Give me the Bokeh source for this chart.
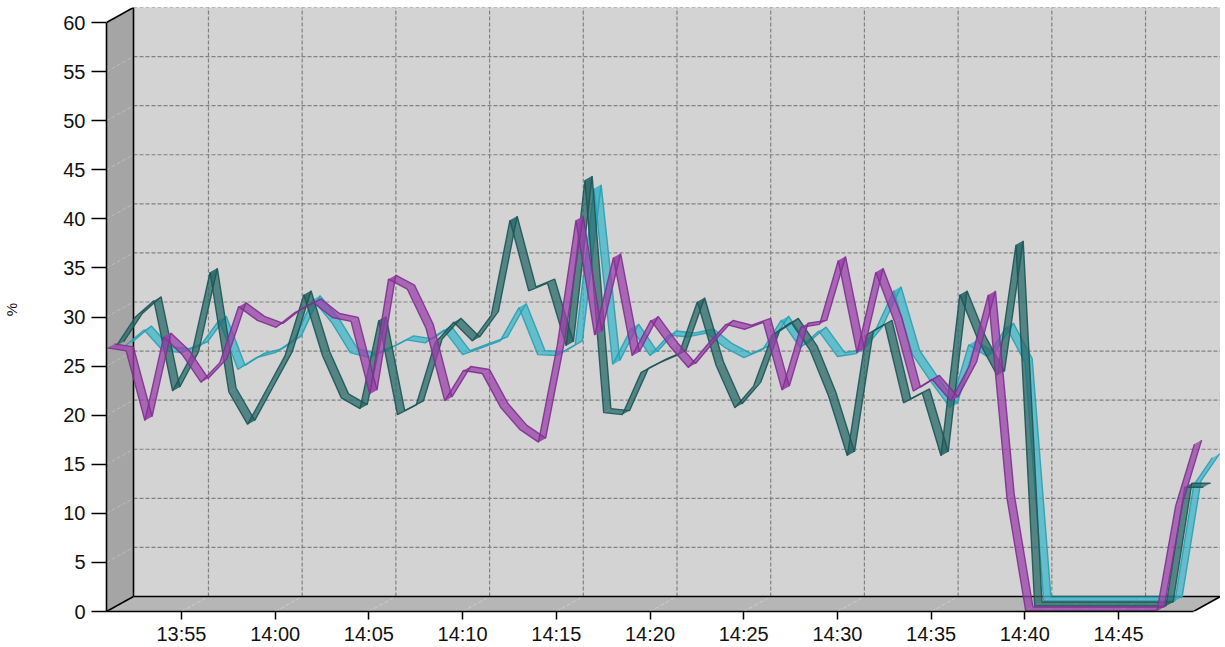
import pandas as pd
from bokeh.plotting import figure
from bokeh.models import FixedTicker, DatetimeTickFormatter, Range1d
from bokeh.embed import file_html
from bokeh.resources import INLINE

# ---------------- data ----------------
start_time = "2024-01-01 13:51"
end_time = "2024-01-01 14:49"
step_minutes = 1

series_purple = [26.8, 26.5, 19.4, 27.9, 26.1, 23.3, 25.3, 31.0, 29.6, 28.9,
                 30.4, 31.4, 29.9, 29.5, 22.1, 33.8, 32.8, 28.8, 21.4, 24.5,
                 24.2, 20.7, 18.5, 17.2, 27.0, 39.8, 28.1, 36.0, 26.0, 29.6,
                 27.0, 24.8, 27.1, 29.2, 28.7, 29.4, 22.5, 28.9, 29.2, 35.7,
                 26.3, 34.5, 29.5, 22.4, 23.6, 21.4, 25.0, 32.2, 11.5, 0.0,
                 0.0, 0.0, 0.0, 0.0, 0.0, 0.0, 0.0, 10.7, 17.0]
series_teal = [26.5, 29.4, 31.1, 21.9, 25.5, 34.0, 21.8, 18.5, 22.0, 25.5,
               31.7, 25.5, 21.2, 20.1, 29.1, 19.5, 20.5, 26.8, 28.9, 27.0,
               29.6, 39.3, 32.1, 32.9, 26.5, 43.4, 19.7, 19.5, 23.8, 24.8,
               25.6, 31.0, 24.5, 20.2, 22.4, 27.6, 28.9, 26.1, 21.4, 15.3,
               27.6, 28.7, 20.7, 21.7, 15.3, 31.7, 27.0, 23.5, 36.8, 0.0,
               0.0, 0.0, 0.0, 0.0, 0.0, 0.0, 0.0, 12.1, 12.1]
series_cyan = [26.0, 27.6, 25.5, 25.3, 26.0, 28.6, 23.6, 24.8, 25.3, 26.6,
               30.7, 28.4, 25.3, 24.8, 25.6, 26.6, 26.3, 27.6, 25.1, 25.8,
               26.5, 29.9, 25.1, 25.0, 26.1, 42.0, 24.1, 27.8, 25.0, 27.1,
               26.9, 27.3, 25.8, 24.8, 25.6, 28.6, 25.8, 27.5, 24.9, 25.2,
               27.5, 31.6, 25.1, 22.3, 19.7, 26.1, 24.9, 27.9, 24.3, 0.0,
               0.0, 0.0, 0.0, 0.0, 0.0, 0.0, 0.0, 11.8, 14.6]

x_tick_labels = ["13:55", "14:00", "14:05", "14:10", "14:15", "14:20",
                 "14:25", "14:30", "14:35", "14:40", "14:45"]
y_ticks = list(range(0, 61, 5))
y_label = "%"

# ---------------- geometry ----------------
def ms(s):
    return pd.Timestamp(s).value // 10**6

t0 = ms(start_time)
t1 = ms(end_time)
day = start_time.split(" ")[0]
x_ticks = [ms(day + " " + lab) for lab in x_tick_labels]

FRAME_W, FRAME_H = 1114, 604
DEPTH_X, DEPTH_Y = 27, 15          # pixel offset of the back wall
Y_MAX = 60
px_per_ms = (FRAME_W - DEPTH_X) / (t1 - t0)
px_per_unit = (FRAME_H - DEPTH_Y) / Y_MAX
ddx = DEPTH_X / px_per_ms
ddy = DEPTH_Y / px_per_unit

p = figure(frame_width=FRAME_W, frame_height=FRAME_H,
           x_axis_type="datetime",
           x_range=Range1d(t0, t0 + FRAME_W / px_per_ms),
           y_range=Range1d(0, FRAME_H / px_per_unit),
           output_backend="svg", toolbar_location=None,
           min_border_left=100, min_border_right=0,
           min_border_top=7, min_border_bottom=0,
           background_fill_color="white", border_fill_color="white",
           outline_line_color=None)
p.xgrid.visible = False
p.ygrid.visible = False

# walls
xa, xb = t0, t1
p.patch([xa + ddx, xb + ddx, xb + ddx, xa + ddx],
        [ddy, ddy, Y_MAX + ddy, Y_MAX + ddy],
        fill_color="#d3d3d3", line_color=None)
p.patch([xa, xa + ddx, xa + ddx, xa], [0, ddy, Y_MAX + ddy, Y_MAX],
        fill_color="#a5a5a5", line_color=None)
p.patch([xa, xb, xb + ddx, xa + ddx], [0, 0, ddy, ddy],
        fill_color="#b6b6b6", line_color=None)

# grid on back wall
gy = [t for t in y_ticks if t > 0]
p.multi_line([[xa + ddx, xb + ddx] for _ in gy], [[t + ddy, t + ddy] for t in gy],
             line_color="#808080", line_width=1.2, line_dash="4 2")
p.multi_line([[t + ddx, t + ddx] for t in x_ticks], [[ddy, Y_MAX + ddy] for _ in x_ticks],
             line_color="#808080", line_width=1.2, line_dash="4 2")
# grid on left wall and floor
lw = [t for t in gy if t < Y_MAX]
p.multi_line([[xa, xa + ddx] for _ in lw], [[t, t + ddy] for t in lw],
             line_color="#bcbcbc", line_width=1, line_dash="4 2")
p.multi_line([[t, t + ddx] for t in x_ticks], [[0, ddy] for _ in x_ticks],
             line_color="#cdcdcd", line_width=1, line_dash="4 2")

# box edges
edge = dict(line_color="black", line_width=1.6)
p.line([xa + ddx, xa + ddx], [ddy, Y_MAX + ddy], **edge)
p.line([xa + ddx, xb + ddx], [ddy, ddy], **edge)
p.line([xa, xa + ddx], [Y_MAX, Y_MAX + ddy], **edge)
p.line([xa, xa + ddx], [0, ddy], **edge)
p.line([xb, xb + ddx], [0, ddy], **edge)
p.line([xb + ddx, xb + ddx], [ddy, Y_MAX + ddy], line_color="#8a8a8a", line_width=1)

# ---------------- series as 3D ribbons ----------------
ROW_X, ROW_Y = DEPTH_X / 3, DEPTH_Y / 3
RIB = 0.8
step_ms = step_minutes * 60000

def ribbon(values, row, fill, edge_col):
    ox = (row * ROW_X + ROW_X * (1 - RIB) / 2) / px_per_ms
    oy = (row * ROW_Y + ROW_Y * (1 - RIB) / 2) / px_per_unit
    rx = ROW_X * RIB / px_per_ms
    ry = ROW_Y * RIB / px_per_unit
    xs = [t0 + i * step_ms + ox for i in range(len(values))]
    ys = [v + oy for v in values]
    qx, qy = [], []
    for i in range(len(values) - 1):
        qx.append([xs[i], xs[i + 1], xs[i + 1] + rx, xs[i] + rx])
        qy.append([ys[i], ys[i + 1], ys[i + 1] + ry, ys[i] + ry])
    p.patches(qx, qy, fill_color=fill, fill_alpha=0.75, line_color=None)
    p.line(xs, ys, line_color=edge_col, line_width=1.4, line_alpha=0.9)
    p.line([x + rx for x in xs], [y + ry for y in ys],
           line_color=edge_col, line_width=1.4, line_alpha=0.9)

ribbon(series_cyan, 2, "#3db5c8", "#2a9fb2")
ribbon(series_teal, 1, "#2a6a6a", "#1d5555")
ribbon(series_purple, 0, "#9a42aa", "#80308f")

# ---------------- axes ----------------
p.xaxis.ticker = FixedTicker(ticks=x_ticks)
p.xaxis.formatter = DatetimeTickFormatter(minutes="%H:%M", hours="%H:%M",
                                          minsec="%H:%M", seconds="%H:%M")
p.xaxis.bounds = (t0, t1)
p.yaxis.ticker = FixedTicker(ticks=y_ticks)
p.yaxis.bounds = (0, Y_MAX)

for ax in (p.xaxis[0], p.yaxis[0]):
    ax.axis_line_color = "black"
    ax.axis_line_width = 1.6
    ax.major_tick_line_color = "black"
    ax.major_tick_line_width = 1.5
    ax.minor_tick_line_color = None
    ax.major_tick_in = 0
    ax.major_label_text_font = "Liberation Sans"
    ax.major_label_text_font_size = "20px"
    ax.major_label_text_color = "#111111"

p.xaxis.major_tick_out = 8
p.xaxis.major_label_standoff = 3
p.yaxis.major_tick_out = 15
p.yaxis.major_label_standoff = 6
p.yaxis.axis_label = y_label
p.yaxis.axis_label_text_font = "Liberation Sans"
p.yaxis.axis_label_text_font_size = "15px"
p.yaxis.axis_label_text_font_style = "normal"
p.yaxis.axis_label_text_color = "#111111"
p.yaxis.axis_label_standoff = 40

open("out.html", "w").write(file_html(p, INLINE))
